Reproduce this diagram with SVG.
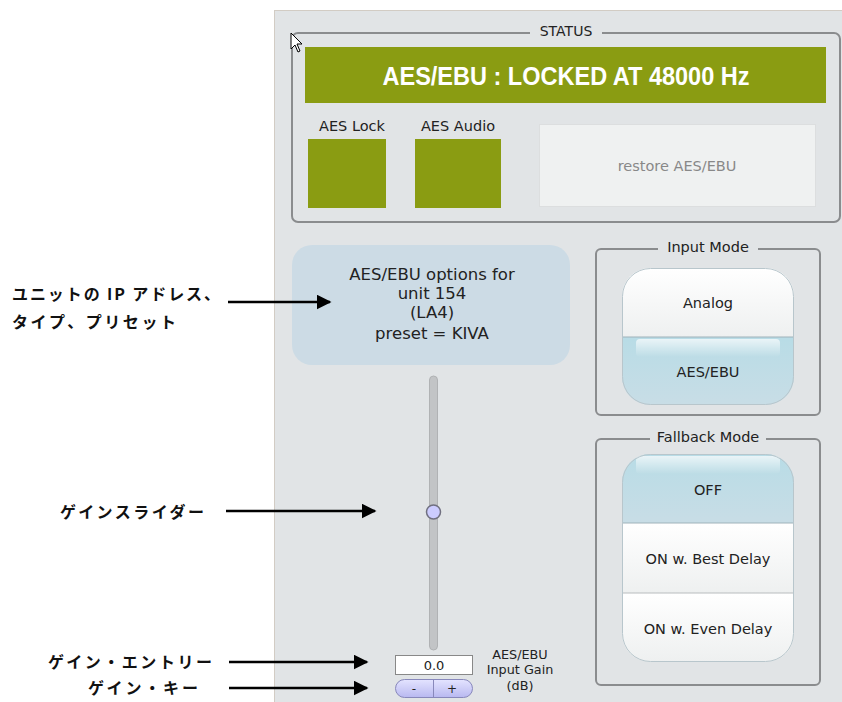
<svg xmlns="http://www.w3.org/2000/svg" width="842" height="702" viewBox="0 0 842 702">
<defs>
<style>
.ui{font-family:"DejaVu Sans","Noto Sans",sans-serif;font-size:14.5px;fill:#222;text-anchor:middle}
.jp{font-family:"Noto Sans CJK JP","Noto Sans",sans-serif;font-size:16px;font-weight:bold;fill:#111}
.grp{fill:none;stroke:#8a8c8e;stroke-width:2}
.leg{fill:#e1e4e6}
.green{fill:#8a9c12}
.conn{stroke:#000;stroke-width:2.5;fill:none}
</style>
<marker id="ah" viewBox="0 0 10 10" refX="9" refY="5" markerWidth="6" markerHeight="6" orient="auto" markerUnits="strokeWidth">
<path d="M0,0 L10,5 L0,10 Z" fill="#000"/>
</marker>
<linearGradient id="gw" x1="0" y1="0" x2="0" y2="1">
<stop offset="0" stop-color="#ffffff"/><stop offset="1" stop-color="#eef0f0"/>
</linearGradient>
<linearGradient id="gb" x1="0" y1="0" x2="0" y2="1">
<stop offset="0" stop-color="#b8dce6"/><stop offset="1" stop-color="#c8dde6"/>
</linearGradient>
<linearGradient id="gh" x1="0" y1="0" x2="0" y2="1">
<stop offset="0" stop-color="#fff" stop-opacity="0.7"/><stop offset="1" stop-color="#fff" stop-opacity="0"/>
</linearGradient>
<linearGradient id="gk" x1="0" y1="0" x2="0" y2="1">
<stop offset="0" stop-color="#e4e4ff"/><stop offset="1" stop-color="#b8b8f0"/>
</linearGradient>
<clipPath id="c1"><rect x="622" y="268" width="172" height="137" rx="28"/></clipPath>
<clipPath id="c2"><rect x="622" y="454" width="172" height="208" rx="28"/></clipPath>
</defs>
<rect width="842" height="702" fill="#fff"/>
<g id="panel">
<rect x="274.5" y="10.5" width="570" height="694" fill="#e1e4e6" stroke="#d2ccc4"/>
</g>
<g id="status">
<rect class="grp" x="292" y="33" width="548" height="189" rx="6"/>
<rect class="leg" x="530" y="22" width="72" height="16"/>
<text class="ui" x="566" y="36" style="font-size:14px">STATUS</text>
<rect class="green" x="305" y="47" width="521" height="56"/>
<text x="566" y="85" text-anchor="middle" font-family="'Liberation Sans Narrow','Liberation Sans',Arial,sans-serif" font-size="26" font-weight="bold" fill="#fff" textLength="367" lengthAdjust="spacingAndGlyphs">AES/EBU : LOCKED AT 48000 Hz</text>
</g>
<g id="aes-lock">
<text class="ui" x="352" y="131">AES Lock</text>
<rect class="green" x="308" y="139" width="78" height="69"/>
</g>
<g id="aes-audio">
<text class="ui" x="458" y="131">AES Audio</text>
<rect class="green" x="415" y="139" width="86" height="69"/>
</g>
<g id="restore">
<rect x="539.5" y="124.5" width="276" height="82" fill="#eff1f1" stroke="#dcdedf"/>
<text class="ui" x="677" y="171" style="fill:#888">restore AES/EBU</text>
</g>
<g id="info">
<rect x="292" y="245" width="278" height="120" rx="20" fill="#ccdbe5"/>
<text class="ui" x="432" y="280" style="font-size:16.5px">AES/EBU options for</text>
<text class="ui" x="432" y="299" style="font-size:16.5px">unit 154</text>
<text class="ui" x="432" y="318" style="font-size:16.5px">(LA4)</text>
<text class="ui" x="432" y="339" style="font-size:16.5px">preset = KIVA</text>
</g>
<g id="input-mode">
<rect class="grp" x="596" y="249" width="224" height="166" rx="5"/>
<rect class="leg" x="658" y="238" width="100" height="16"/>
<text class="ui" x="708" y="252">Input Mode</text>
<g clip-path="url(#c1)">
<rect x="622" y="268" width="172" height="69" fill="url(#gw)"/>
<rect x="622" y="337" width="172" height="68" fill="url(#gb)"/>
<rect x="636" y="339" width="144" height="18" rx="4" fill="url(#gh)"/>
<line x1="622" y1="337" x2="794" y2="337" stroke="#9fb2ba" stroke-width="1"/>
</g>
<rect x="622.5" y="268.5" width="171" height="136" rx="28" fill="none" stroke="#b8c6cc"/>
<text class="ui" x="708" y="308">Analog</text>
<text class="ui" x="708" y="377">AES/EBU</text>
</g>
<g id="fallback-mode">
<rect class="grp" x="596" y="439" width="224" height="246" rx="5"/>
<rect class="leg" x="650" y="428" width="116" height="16"/>
<text class="ui" x="708" y="442">Fallback Mode</text>
<g clip-path="url(#c2)">
<rect x="622" y="454" width="172" height="69" fill="url(#gb)"/>
<rect x="636" y="456" width="144" height="18" rx="4" fill="url(#gh)"/>
<rect x="622" y="523" width="172" height="70" fill="url(#gw)"/>
<rect x="622" y="593" width="172" height="69" fill="url(#gw)"/>
<line x1="622" y1="523" x2="794" y2="523" stroke="#9fb2ba"/>
<line x1="622" y1="593" x2="794" y2="593" stroke="#b8bcbe"/>
</g>
<rect x="622.5" y="454.5" width="171" height="207" rx="28" fill="none" stroke="#b8c6cc"/>
<text class="ui" x="708" y="495">OFF</text>
<text class="ui" x="708" y="564">ON w. Best Delay</text>
<text class="ui" x="708" y="634">ON w. Even Delay</text>
</g>
<g id="slider">
<rect x="429.5" y="376" width="8" height="274" rx="4" fill="#c2c4c6" stroke="#b0b2b4"/>
<circle cx="433.5" cy="512" r="7" fill="#ccccff" stroke="#707080" stroke-width="1.5"/>
</g>
<g id="gain-entry">
<rect x="395.5" y="655.5" width="77" height="19" fill="#fff" stroke="#888"/>
<text class="ui" x="434" y="670" style="font-size:13px">0.0</text>
</g>
<g id="gain-keys">
<rect x="395.5" y="679.5" width="77" height="18" rx="9" fill="url(#gk)" stroke="#8888bb"/>
<line x1="433.5" y1="680" x2="433.5" y2="697" stroke="#8888bb"/>
<text class="ui" x="414" y="693" style="font-size:12px">-</text>
<text class="ui" x="452" y="693" style="font-size:12px">+</text>
</g>
<g id="gain-label">
<text class="ui" x="520" y="659" style="font-size:12.8px">AES/EBU</text>
<text class="ui" x="520" y="674" style="font-size:12.8px">Input Gain</text>
<text class="ui" x="520" y="690" style="font-size:12.8px">(dB)</text>
</g>
<g id="cursor">
<path d="M291,33 L291,49 L295,45 L298,52 L300,51 L297,44 L302,44 Z" fill="#fff" stroke="#000" stroke-width="1"/>
</g>
<g id="annotations">
<text class="jp" x="12" y="300" textLength="208" lengthAdjust="spacing">ユニットの IP アドレス、</text>
<text class="jp" x="12" y="328" textLength="164" lengthAdjust="spacing">タイプ、プリセット</text>
<text class="jp" x="60" y="518" textLength="144" lengthAdjust="spacing">ゲインスライダー</text>
<text class="jp" x="48" y="668" textLength="164" lengthAdjust="spacing">ゲイン・エントリー</text>
<text class="jp" x="88" y="694" textLength="110" lengthAdjust="spacing">ゲイン・キー</text>
</g>
<g id="connectors">
<line class="conn" x1="228" y1="302" x2="330" y2="302" marker-end="url(#ah)"/>
<line class="conn" x1="226" y1="511" x2="375" y2="511" marker-end="url(#ah)"/>
<line class="conn" x1="229" y1="662" x2="367" y2="662" marker-end="url(#ah)"/>
<line class="conn" x1="229" y1="688" x2="367" y2="688" marker-end="url(#ah)"/>
</g>
</svg>
